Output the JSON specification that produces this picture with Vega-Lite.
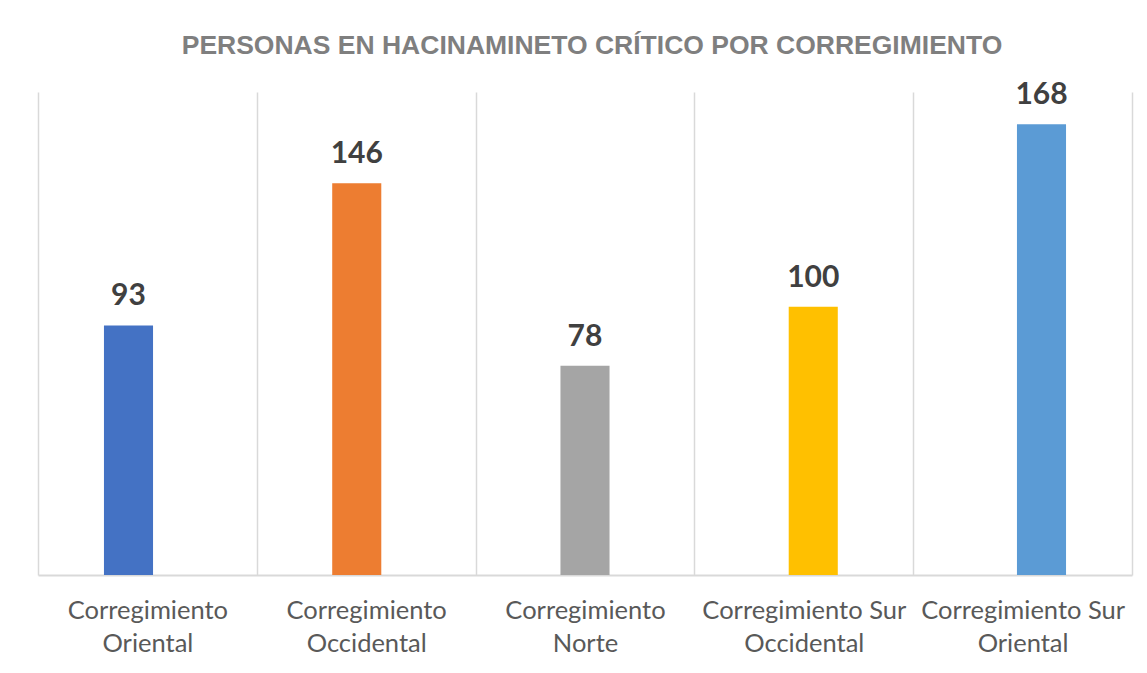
{
  "$schema": "https://vega.github.io/schema/vega-lite/v6.json",
  "width": 1094,
  "height": 483,
  "autosize": "none",
  "padding": {"left": 38, "top": 92, "right": 15, "bottom": 98},
  "background": "white",
  "config": {"view": {"stroke": null}},
  "title": {
    "text": "PERSONAS EN HACINAMINETO CRÍTICO POR CORREGIMIENTO",
    "anchor": "middle",
    "font": "Liberation Sans",
    "fontSize": 26.5,
    "fontWeight": "bold",
    "color": "#7f7f7f",
    "offset": 21,
    "dx": 7
  },
  "data": {
    "values": [
      {"corregimiento": "Corregimiento Oriental", "personas": 93},
      {"corregimiento": "Corregimiento Occidental", "personas": 146},
      {"corregimiento": "Corregimiento Norte", "personas": 78},
      {"corregimiento": "Corregimiento Sur Occidental", "personas": 100},
      {"corregimiento": "Corregimiento Sur Oriental", "personas": 168}
    ]
  },
  "layer": [
    {
      "mark": {"type": "point", "opacity": 0},
      "encoding": {
        "x": {
          "field": "corregimiento",
          "type": "nominal",
          "sort": null,
          "scale": {"paddingInner": 0, "paddingOuter": 0},
          "axis": {
            "title": null,
            "orient": "bottom",
            "grid": true,
            "gridColor": "#d9d9d9",
            "gridWidth": 1.5,
            "tickBand": "extent",
            "ticks": false,
            "domainColor": "#d9d9d9",
            "domainWidth": 2,
            "labelAngle": 0,
            "labelFont": "Lato",
            "labelFontSize": 25.5,
            "labelColor": "#595959",
            "labelPadding": 23,
            "labelLineHeight": 33.5,
            "labelLimit": 400,
            "labelOverlap": false,
            "labelExpr": "[substring(datum.label, 0, lastindexof(datum.label, ' ')), substring(datum.label, lastindexof(datum.label, ' ') + 1)]"
          }
        }
      }
    },
    {
      "encoding": {
        "x": {
          "field": "corregimiento",
          "type": "nominal",
          "sort": null,
          "scale": {"paddingInner": 0.785, "paddingOuter": 0.289},
          "axis": null
        },
        "y": {
          "field": "personas",
          "type": "quantitative",
          "scale": {"domain": [0, 180]},
          "axis": null
        }
      },
      "layer": [
        {
          "mark": {"type": "bar"},
          "encoding": {
            "color": {
              "field": "corregimiento",
              "type": "nominal",
              "sort": null,
              "scale": {"range": ["#4472C4", "#ED7D31", "#A5A5A5", "#FFC000", "#5B9BD5"]},
              "legend": null
            }
          }
        },
        {
          "mark": {
            "type": "text",
            "baseline": "alphabetic",
            "dy": -20,
            "font": "Lato",
            "fontSize": 30,
            "fontWeight": "bold",
            "color": "#404040"
          },
          "encoding": {"text": {"field": "personas", "type": "quantitative"}}
        }
      ]
    }
  ],
  "resolve": {"scale": {"x": "independent"}}
}
